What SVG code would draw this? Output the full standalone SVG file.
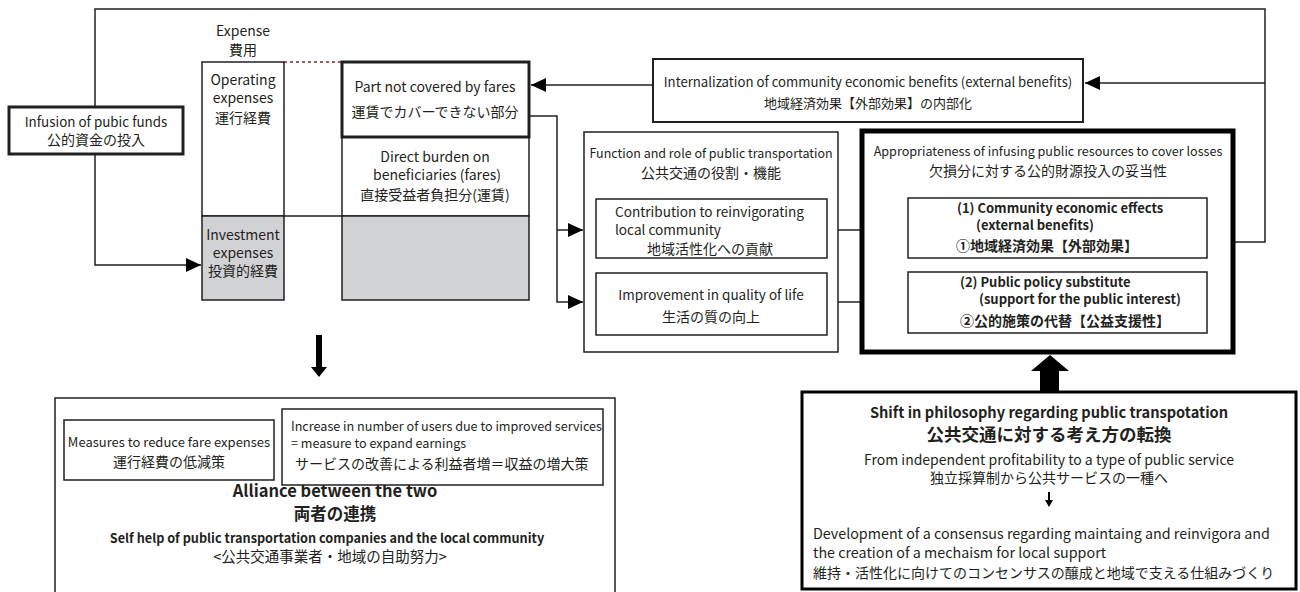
<svg xmlns="http://www.w3.org/2000/svg" width="1300" height="592" viewBox="0 0 1300 592">
<defs>
<style>
text{font-family:"Noto Sans CJK JP","Noto Sans",sans-serif;fill:#231f20;font-size:14px}
.c{text-anchor:middle}
.s13{font-size:13px}
.b{font-weight:700}
.sb{font-weight:600}
.box{fill:#fff;stroke:#231f20;stroke-width:1.5}
.gray{fill:#d1d2d4;stroke:#231f20;stroke-width:1.5}
.con{fill:none;stroke:#231f20;stroke-width:1.5}
</style>
<marker id="ah" markerUnits="userSpaceOnUse" markerWidth="15" markerHeight="14" refX="15" refY="7" orient="auto"><path d="M0,0 L15,7 L0,14 z" fill="#000"/></marker>
</defs>
<rect width="1300" height="592" fill="#fff"/>

<g id="connectors">
<path class="con" d="M95,107 V9 H1265 V242 H1235"/>
<path class="con" d="M1265,83 H1085" marker-end="url(#ah)"/>
<path class="con" d="M653,85 H531" marker-end="url(#ah)"/>
<path class="con" d="M95,154 V265 H201" marker-end="url(#ah)"/>
<path class="con" d="M530,116 H557 V302 H583" marker-end="url(#ah)"/>
<path class="con" d="M557,230 H583" marker-end="url(#ah)"/>
<path class="con" d="M827,230 H907" marker-end="url(#ah)"/>
<path class="con" d="M827,302 H907" marker-end="url(#ah)"/>
<path class="con" d="M284,216 H342"/>
<path d="M284,62 H342" fill="none" stroke="#7a2a2a" stroke-width="1.5" stroke-dasharray="3,3"/>
<path d="M316,335 H322 V367 H327 L319,377 L311,367 H316 Z" fill="#000"/>
<path d="M1050,355 L1069,371 H1059 V392 H1040 V371 H1031 Z" fill="#000"/>
</g>

<g id="infusion">
<rect x="9" y="107" width="174" height="47" fill="#fff" stroke="#231f20" stroke-width="3"/>
<text class="c" x="96" y="127" style="font-size:13.4px">Infusion of pubic funds</text>
<text class="c" x="96" y="145">公的資金の投入</text>
</g>

<g id="expense">
<text class="c" x="243" y="36">Expense</text>
<text class="c" x="243" y="55">費用</text>
<rect class="box" x="202" y="62" width="82" height="154"/>
<rect class="gray" x="202" y="216" width="82" height="84"/>
<text class="c" x="243" y="85">Operating</text>
<text class="c" x="243" y="103">expenses</text>
<text class="c" x="243" y="123">運行経費</text>
<text class="c" x="243" y="240">Investment</text>
<text class="c" x="243" y="258">expenses</text>
<text class="c" x="243" y="276">投資的経費</text>
</g>

<g id="revenue">
<rect class="box" x="342" y="137" width="187" height="79"/>
<rect class="gray" x="342" y="216" width="187" height="84"/>
<text class="c" x="435" y="162">Direct burden on</text>
<text class="c" x="437" y="180">beneficiaries (fares)</text>
<text class="c" x="435" y="200">直接受益者負担分(運賃)</text>
</g>

<g id="notcovered">
<rect x="342" y="62" width="187" height="75" fill="#fff" stroke="#231f20" stroke-width="3"/>
<text class="c" x="435" y="92">Part not covered by fares</text>
<text class="c" x="435" y="117">運賃でカバーできない部分</text>
</g>

<g id="internalization">
<rect x="653" y="59" width="430" height="63" fill="#fff" stroke="#231f20" stroke-width="2"/>
<text class="c" x="868" y="87" style="font-size:13.2px">Internalization of community economic benefits (external benefits)</text>
<text class="c s13" x="868" y="108">地域経済効果【外部効果】の内部化</text>
</g>

<g id="function">
<rect class="box" x="584" y="132" width="254" height="220"/>
<text class="c" x="711" y="158" style="font-size:12.5px">Function and role of public transportation</text>
<text class="c" x="711" y="178">公共交通の役割・機能</text>
</g>

<g id="contribution">
<rect class="box" x="596" y="199" width="231" height="59"/>
<text x="615" y="217" style="font-size:13.6px">Contribution to reinvigorating</text>
<text x="615" y="235" style="font-size:13.6px">local community</text>
<text class="c" x="710" y="254">地域活性化への貢献</text>
</g>

<g id="improvement">
<rect class="box" x="596" y="273" width="231" height="62"/>
<text class="c" x="711" y="300" style="font-size:13.5px">Improvement in quality of life</text>
<text class="c" x="711" y="322">生活の質の向上</text>
</g>

<g id="appropriateness">
<rect x="862" y="131" width="371" height="221" fill="#fff" stroke="#000" stroke-width="5"/>
<text class="c" x="1048" y="156" style="font-size:12.6px">Appropriateness of infusing public resources to cover losses</text>
<text class="c" x="1048" y="176">欠損分に対する公的財源投入の妥当性</text>
</g>

<g id="effects1">
<rect class="box" x="908" y="198" width="299" height="60"/>
<text class="sb s13" x="957" y="213">(1) Community economic effects</text>
<text class="sb s13" x="976" y="230">(external benefits)</text>
<text class="b" x="956" y="251">①地域経済効果【外部効果】</text>
</g>

<g id="effects2">
<rect class="box" x="908" y="272" width="299" height="61"/>
<text class="sb s13" x="960" y="287">(2) Public policy substitute</text>
<text class="sb s13" x="979" y="304">(support for the public interest)</text>
<text class="b" x="960" y="326">②公的施策の代替【公益支援性】</text>
</g>

<g id="alliance">
<rect class="box" x="55" y="398" width="560" height="202"/>
<text class="c sb" x="335" y="497" style="font-size:16.5px">Alliance between the two</text>
<text class="c sb" x="335" y="520" style="font-size:16.5px">両者の連携</text>
<text class="c sb" x="327" y="543" style="font-size:12.7px">Self help of public transportation companies and the local community</text>
<text class="c" x="330" y="562" style="font-size:14.5px">&lt;公共交通事業者・地域の自助努力&gt;</text>
</g>

<g id="measures">
<rect class="box" x="64" y="420" width="210" height="60"/>
<text class="c" x="169" y="447" style="font-size:13px">Measures to reduce fare expenses</text>
<text class="c" x="169" y="467">運行経費の低減策</text>
</g>

<g id="increase">
<rect class="box" x="282" y="409" width="321" height="76"/>
<text x="291" y="431" style="font-size:12.6px">Increase in number of users due to improved services</text>
<text x="291" y="448" style="font-size:12.6px">= measure to expand earnings</text>
<text x="295" y="469">サービスの改善による利益者増＝収益の増大策</text>
</g>

<g id="shift">
<rect x="802" y="392" width="494" height="197" fill="#fff" stroke="#000" stroke-width="3"/>
<text class="c sb" x="1049" y="418" style="font-size:14.6px">Shift in philosophy regarding public transpotation</text>
<text class="c b" x="1049" y="441" style="font-size:17.5px">公共交通に対する考え方の転換</text>
<text class="c" x="1049" y="465" style="font-size:14px">From independent profitability to a type of public service</text>
<text class="c" x="1049" y="483">独立採算制から公共サービスの一種へ</text>
<path d="M1048,492 H1050 V500 H1053 L1049,507 L1045,500 H1048 Z" fill="#000"/>
<text x="813" y="539" style="font-size:14.3px">Development of a consensus regarding maintaing and reinvigora and</text>
<text x="813" y="558" style="font-size:14.3px">the creation of a mechaism for local support</text>
<text x="813" y="578">維持・活性化に向けてのコンセンサスの醸成と地域で支える仕組みづくり</text>
</g>
</svg>
